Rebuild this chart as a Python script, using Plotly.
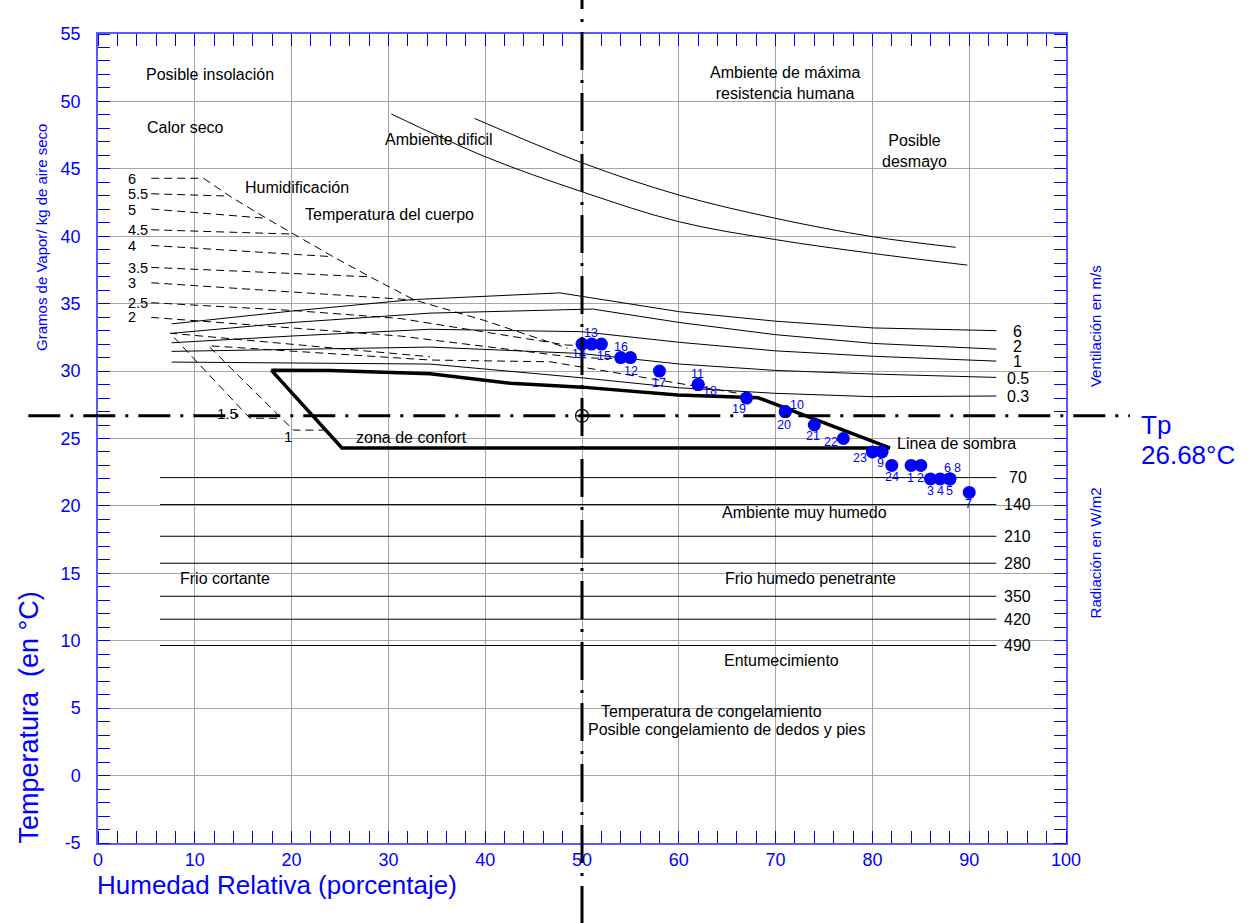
import plotly.graph_objects as go

# ---------------- data ----------------
X_RANGE = [0, 100]
Y_RANGE = [-5, 55]
TP = 26.68
x_ticks = [0, 10, 20, 30, 40, 50, 60, 70, 80, 90, 100]
y_ticks = [-5, 0, 5, 10, 15, 20, 25, 30, 35, 40, 45, 50, 55]
y_ticktext = ["-5", "0", "5", "10", "15", "20", "25", "30", "35", "40", "45", "50", "55"]

# ventilation curves (m/s)
vent_labels = ["6", "2", "1", "0.5", "0.3"]
vent_x = [
    [7.6, 20.0, 32.5, 47.7, 60.1, 70.0, 80.1, 92.8],
    [7.6, 20.0, 34.3, 51.1, 60.1, 70.0, 80.1, 92.8],
    [7.6, 20.0, 34.3, 50.0, 60.1, 70.0, 80.1, 92.8],
    [7.6, 20.0, 34.3, 50.0, 60.1, 70.0, 80.1, 92.8],
    [7.6, 20.0, 34.3, 50.0, 60.1, 70.0, 80.1, 92.8],
]
vent_y = [
    [33.5, 34.45, 35.3, 35.8, 34.4, 33.7, 33.2, 33.0],
    [32.8, 33.6, 34.3, 34.6, 33.6, 32.7, 32.05, 31.63],
    [32.1, 32.6, 33.1, 32.92, 32.13, 31.5, 31.1, 30.74],
    [31.46, 31.6, 31.78, 31.3, 30.52, 30.05, 29.78, 29.53],
    [30.67, 30.6, 30.52, 29.5, 28.76, 28.35, 28.1, 28.15],
]
vent_label_y = [32.97, 31.8, 30.74, 29.46, 28.1]

# radiation lines (W/m2)
rad_labels = ["70", "140", "210", "280", "350", "420", "490"]
rad_y = [22.1, 20.1, 17.75, 15.75, 13.3, 11.6, 9.65]
rad_x = [6.4, 92.8]

# humidification lines (g/kg)
hum_labels = ["6", "5.5", "5", "4.5", "4", "3.5", "3", "2.5", "2"]
hum_label_y = [44.24, 43.15, 41.94, 40.46, 39.27, 37.66, 36.5, 35.02, 33.98]
hum_x = [
    [5.5, 10.9],
    [5.5, 13.6],
    [5.5, 17.4],
    [5.5, 20.2],
    [5.5, 24.3],
    [5.5, 28.1],
    [5.5, 32.7],
    [5.5, 20.0, 31.2, 48.4, 50.0],
    [5.5, 20.0, 31.2, 49.4, 55.0],
]
hum_y = [
    [44.3, 44.3],
    [43.15, 42.98],
    [42.02, 41.33],
    [40.48, 40.16],
    [39.32, 38.48],
    [37.69, 36.99],
    [36.55, 35.27],
    [35.07, 34.5, 33.9, 31.93, 31.9],
    [33.98, 33.2, 32.6, 31.0, 30.9],
]
# diagonal "temperatura del cuerpo" dashed line
diag_x = [10.9, 13.6, 17.4, 20.2, 24.3, 28.1, 32.7, 39.8, 48.5]
diag_y = [44.3, 42.98, 41.33, 40.16, 38.48, 36.99, 35.27, 33.78, 31.7]
# lower dashed lines 1.5 and 1
low_labels = ["1.5", "1"]
low_x = [[18.5, 15.7, 7.44, 34.3], [23.6, 20.2, 11.4, 34.3, 46.7, 67.4]]
low_y = [[26.5, 26.5, 32.81, 31.06], [25.62, 25.62, 31.88, 30.82, 30.69, 28.2]]
low_label_x = [13.4, 19.6]
low_label_y = [26.88, 25.18]

# upper limit curves
curveA_x = [30.3, 40, 50, 60, 70, 80, 89.8]
curveA_y = [49.07, 45.9, 43.3, 41.08, 39.75, 38.73, 37.86]
curveB_x = [38.9, 50, 60, 70, 80, 88.6]
curveB_y = [48.74, 45.45, 43.06, 41.33, 39.97, 39.18]

# comfort zone
comfort_x = [17.9, 24.0, 34.3, 42.6, 50.0, 59.9, 68.2, 81.8, 25.2, 17.9]
comfort_y = [30.07, 30.05, 29.8, 29.1, 28.81, 28.22, 28.02, 24.3, 24.3, 30.07]

# measured points (relative humidity %, temperature °C)
pt_labels = [str(i) for i in range(1, 25)]
pt_hr = [84, 85, 86, 87, 88, 88, 90, 88, 81, 71, 62, 55, 51, 50, 52, 54, 58, 62, 67, 71, 74, 77, 80, 82]
pt_t = [23, 23, 22, 22, 22, 22, 21, 22, 24, 27, 29, 31, 32, 32, 32, 31, 30, 29, 28, 27, 26, 25, 24, 23]
# label offsets in pixels (dx right, dy down)
pt_dx = [-1, 0, 0, 0, 0, -2, -1, 8, -2, 12, -1, 1, -1, -3, 3, 0, 0, 12, -8, -1, -1, -12, -12, 0]
pt_dy = [13, 13, 12, 12, 12, -11, 12, -11, 11, -7, -11, 13, -11, 10, 12, -11, 12, 6, 11, 13, 11, 3, 6, 12]

# region labels
zone_text = ["Posible insolación", "Calor seco", "Ambiente dificil",
             "Ambiente de máxima<br>resistencia humana", "Posible<br>desmayo",
             "Humidificación", "Temperatura del cuerpo", "zona de confort",
             "Linea de sombra", "Ambiente muy humedo", "Frio cortante",
             "Frio humedo penetrante", "Entumecimiento",
             "Temperatura de congelamiento", "Posible congelamiento de dedos y pies"]
zone_x = [11.6, 9.0, 35.2, 71.0, 84.4, 20.6, 30.1, 32.4, 88.7, 73.0, 13.1, 73.6, 70.6, 63.4, 65.0]
zone_y = [52.0, 48.1, 47.2, 51.4, 46.3, 43.6, 41.6, 25.1, 24.65, 19.5, 14.6, 14.6, 8.5, 4.78, 3.44]

# ---------------- figure ----------------
BLUE = "#0000ff"
AXBLUE = "#5a5aff"
FONT = "Arial, Liberation Sans, sans-serif"
fig = go.Figure()

def add_line(x, y, dash="solid", width=1, shape="linear"):
    fig.add_trace(go.Scatter(x=x, y=y, mode="lines",
                             line=dict(color="black", width=width, dash=dash, shape=shape),
                             hoverinfo="skip", showlegend=False))

DASH = "8px,5px"
for xs, ys in zip(hum_x, hum_y):
    add_line(xs, ys, dash=DASH)
add_line(diag_x, diag_y, dash=DASH)
for xs, ys in zip(low_x, low_y):
    add_line(xs, ys, dash=DASH)
for xs, ys in zip(vent_x, vent_y):
    add_line(xs, ys)
for y in rad_y:
    add_line(rad_x, [y, y])
add_line(curveA_x, curveA_y, shape="spline")
add_line(curveB_x, curveB_y, shape="spline")
add_line(comfort_x, comfort_y, width=3.5)

fig.add_trace(go.Scatter(x=pt_hr, y=pt_t, mode="markers",
                         marker=dict(color=BLUE, size=13),
                         hoverinfo="skip", showlegend=False))

fig.add_trace(go.Scatter(x=[50], y=[TP], mode="markers",
                         marker=dict(symbol="circle-cross-open", size=13,
                                     color="black", line=dict(width=1.2)),
                         hoverinfo="skip", showlegend=False))

ann = []
for t, x, y, dx, dy in zip(pt_labels, pt_hr, pt_t, pt_dx, pt_dy):
    ann.append(dict(x=x, y=y, text=t, showarrow=False, xshift=dx, yshift=-dy,
                    xanchor="center", yanchor="middle",
                    font=dict(size=12.5, color=BLUE, family=FONT)))
for t, x, y in zip(zone_text, zone_x, zone_y):
    ann.append(dict(x=x, y=y, text=t, showarrow=False, xanchor="center", yanchor="middle",
                    font=dict(size=16, color="black", family=FONT)))
for t, y in zip(vent_labels, vent_label_y):
    ann.append(dict(x=95.0, y=y, text=t, showarrow=False, xanchor="center", yanchor="middle",
                    font=dict(size=16, color="black", family=FONT)))
for t, y in zip(rad_labels, rad_y):
    ann.append(dict(x=95.0, y=y, text=t, showarrow=False, xanchor="center", yanchor="middle",
                    font=dict(size=16, color="black", family=FONT)))
for t, y in zip(hum_labels, hum_label_y):
    ann.append(dict(x=3.0, y=y, text=t, showarrow=False, xanchor="left", yanchor="middle",
                    borderpad=0, font=dict(size=14.5, color="black", family=FONT)))
for t, x, y in zip(low_labels, low_label_x, low_label_y):
    ann.append(dict(x=x, y=y, text=t, showarrow=False, xanchor="center", yanchor="middle",
                    font=dict(size=15, color="black", family=FONT)))

# axis titles & side labels
ann += [
    dict(xref="paper", yref="paper", x=-0.0713, y=0.155, text="Temperatura&nbsp; (en °C)",
         textangle=-90, showarrow=False, xanchor="center", yanchor="middle",
         font=dict(size=27, color=BLUE, family=FONT)),
    dict(xref="paper", yref="paper", x=-0.059, y=0.749, text="Gramos de Vapor/ kg de aire seco",
         textangle=-90, showarrow=False, xanchor="center", yanchor="middle",
         font=dict(size=15, color=BLUE, family=FONT)),
    dict(xref="paper", yref="paper", x=-0.003, y=-0.031, xanchor="left", yanchor="top",
         text="Humedad Relativa (porcentaje)", showarrow=False,
         font=dict(size=26, color=BLUE, family=FONT)),
    dict(xref="paper", yref="paper", x=1.030, y=0.639, text="Ventilación en m/s",
         textangle=-90, showarrow=False, xanchor="center", yanchor="middle",
         font=dict(size=15, color=BLUE, family=FONT)),
    dict(xref="paper", yref="paper", x=1.030, y=0.358, text="Radiación en W/m2",
         textangle=-90, showarrow=False, xanchor="center", yanchor="middle",
         font=dict(size=15, color=BLUE, family=FONT)),
    dict(xref="paper", yref="y", x=1.075, y=TP, xanchor="left", yanchor="middle", yshift=-9,
         text="Tp", showarrow=False, font=dict(size=26, color=BLUE, family=FONT)),
    dict(xref="paper", yref="y", x=1.075, y=TP, xanchor="left", yanchor="middle", yshift=-39,
         text="26.68°C", showarrow=False, font=dict(size=26, color=BLUE, family=FONT)),
]

shapes = [
    dict(type="line", xref="paper", yref="paper", x0=0.5, x1=0.5, y0=-0.1, y1=1.045,
         line=dict(color="black", width=3, dash="38px,10px,3px,10px")),
    dict(type="line", xref="paper", yref="y", x0=-0.072, x1=1.066, y0=TP, y1=TP,
         line=dict(color="black", width=3, dash="32px,10px,3px,10px")),
]

axis_common = dict(showline=True, linecolor=AXBLUE, linewidth=1.5, mirror="ticks",
                   ticks="", showgrid=True, gridcolor="#a6a6a6", gridwidth=1,
                   zeroline=False, tickfont=dict(size=18, color=BLUE, family=FONT))

fig.update_layout(
    width=1255, height=923,
    margin=dict(l=98, r=189, t=34, b=80),
    paper_bgcolor="white", plot_bgcolor="white",
    xaxis=dict(range=X_RANGE, tickvals=x_ticks, ticklabelstandoff=0,
               minor=dict(ticks="inside", ticklen=12, dtick=2, tickcolor=BLUE, tickwidth=1,
                          showgrid=False),
               **axis_common),
    yaxis=dict(range=Y_RANGE, tickvals=y_ticks, ticktext=y_ticktext, ticklabelstandoff=12,
               minor=dict(ticks="inside", ticklen=12, dtick=1, tickcolor=BLUE, tickwidth=1,
                          showgrid=False),
               **axis_common),
    annotations=ann,
    shapes=shapes,
    font=dict(family=FONT),
)

fig.write_html("out.html")
